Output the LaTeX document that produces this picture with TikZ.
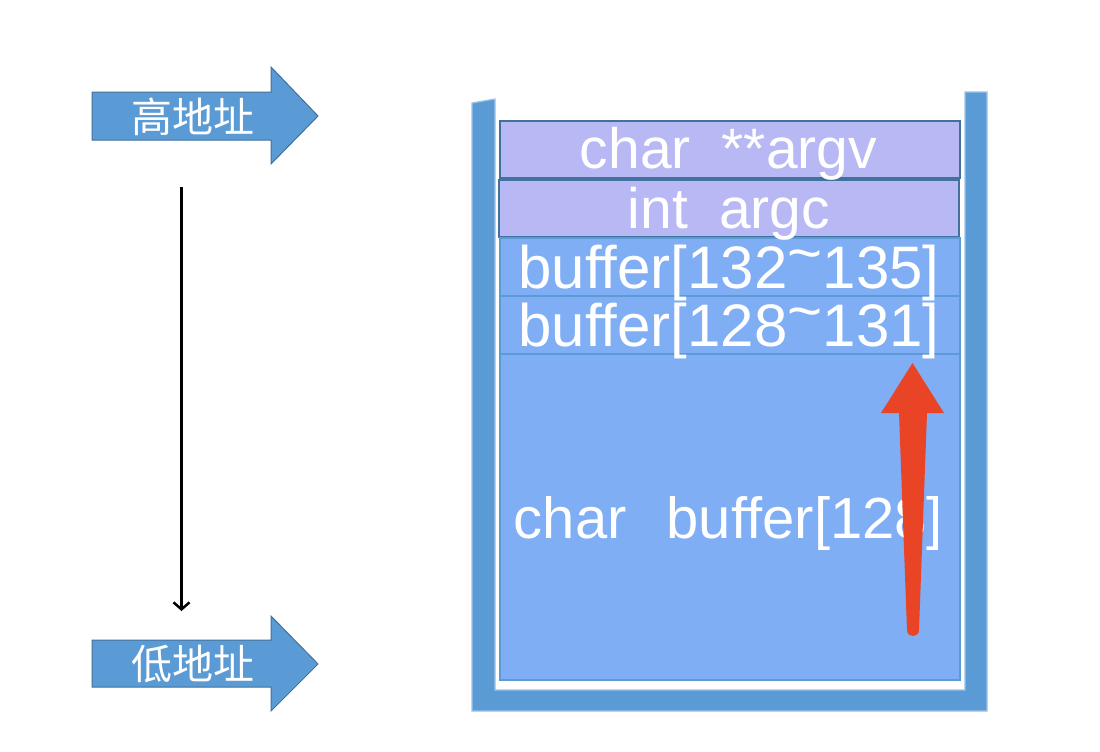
\documentclass[tikz,border=0pt]{standalone}
\usepackage{fontspec}
\setmainfont{Liberation Sans}
\newfontfamily\cjk{Noto Sans CJK SC}
\usetikzlibrary{arrows.meta}
\definecolor{cupblue}{HTML}{5B9BD5}
\definecolor{cupedge}{HTML}{9DC3E6}
\definecolor{darkedge}{HTML}{41719C}
\definecolor{purplefill}{HTML}{B8B8F5}
\definecolor{bufferfill}{HTML}{7FAEF5}
\definecolor{redarrow}{HTML}{E94426}
\newcommand{\hitilde}{\raisebox{15pt}{\char`~}}
\tikzset{
  argbox/.style={draw=darkedge, fill=purplefill, line width=2pt, minimum width=460pt, inner sep=0pt},
  bufbox/.style={draw=cupblue, fill=bufferfill, line width=2.5pt, minimum width=460pt, inner sep=0pt},
  boxtext/.style={anchor=base, text=white, inner sep=0pt, font=\fontsize{57}{60}\selectfont},
  buftext/.style={anchor=base, text=white, inner sep=0pt, font=\fontsize{60}{62}\selectfont},
  blockarrow/.style={fill=cupblue, draw=darkedge, line width=1pt},
  cnlabel/.style={text=white, inner sep=0pt, font=\cjk\fontsize{41}{44}\selectfont},
}
\begin{document}
\begin{tikzpicture}[x=1pt,y=-1pt]
\useasboundingbox (0,0) rectangle (1100,752);
\fill[white] (0,0) rectangle (1100,752);

% cup
\draw[cupedge, fill=cupblue, line width=1.2pt]
  (472,103) -- (495,99) -- (495,690) -- (965,690) -- (965,92) -- (987,92) -- (987,711) -- (472,711) -- cycle;

% stack boxes
\node[argbox, minimum height=57pt] (argv) at (730,149.5) {};
\node[argbox, minimum height=57pt] (argc) at (729,208.5) {};
\node[bufbox, minimum height=58pt] (bufhi) at (730,267) {};
\node[bufbox, minimum height=58pt] (buflo) at (730,325) {};
\node[bufbox, minimum height=326pt] (buf) at (730,517) {};

\node[boxtext] (argvtext) at (728.5,168) {char\hspace{31pt}**argv};
\node[boxtext] (argctext) at (729,228) {int\hspace{31pt}argc};
\node[buftext] (bufhitext) at (729,288) {buffer[132\hitilde135]};
\node[buftext] (buflotext) at (729,346) {buffer[128\hitilde131]};
\node[buftext, font=\fontsize{58}{60}\selectfont] (buftext) at (728.5,538) {char\hspace{40pt}buffer[128]};

% red arrow
\fill[redarrow] (907,630) -- (899,413) -- (881,413) -- (912.5,363) -- (944,413) -- (927,413) -- (919,630)
  .. controls (919,638) and (907,638) .. (907,630) -- cycle;

% address arrows
\draw[blockarrow] (92,92) -- (271,92) -- (271,67) -- (318,116) -- (271,164) -- (271,140) -- (92,140) -- cycle;
\node[cnlabel] (high) at (193,117) {高地址};
\draw[blockarrow] (92,640) -- (271,640) -- (271,616) -- (318,664) -- (271,711) -- (271,687) -- (92,687) -- cycle;
\node[cnlabel] (low) at (193,664) {低地址};

% direction arrow
\coordinate (vtop) at (181.5,187);
\coordinate (vbot) at (181.5,611);
\draw[line width=2.5pt, -{Straight Barb[length=7pt,width=16pt]}] (vtop) -- (vbot);
\end{tikzpicture}
\end{document}
